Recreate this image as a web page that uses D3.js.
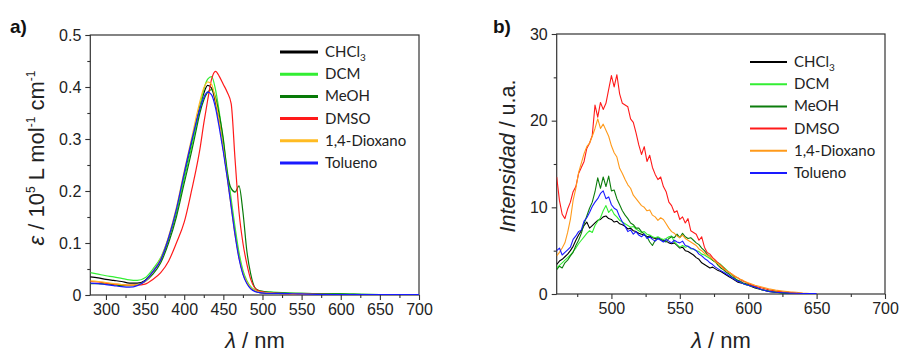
<!DOCTYPE html>
<html><head><meta charset="utf-8">
<script src="https://cdn.jsdelivr.net/npm/d3@7"></script>
<style>
html,body{margin:0;padding:0;background:#fff;}
svg text{font-family:"Liberation Sans",Arial,sans-serif;}
</style></head>
<body><svg id="c" width="900" height="353"></svg>
<script>
// ---------- data ----------
const seriesNames = ["CHCl3","DCM","MeOH","DMSO","1,4-Dioxano","Tolueno"];
const colorsA = ["#000000","#33ee33","#087a08","#ff1a1a","#ffbb22","#1a1aff"];
const colorsB = ["#000000","#33ee33","#0d7d0d","#ff1a1a","#ff9a1a","#1a1aff"];

// Panel a: absorption
const wlA = [280,290,300,310,320,330,340,350,360,370,380,390,400,410,415,420,425,430,435,440,445,450,455,460,465,470,475,480,485,490,495,500,510,520,550,600,650,700];
const absCHCl3 = [0.035,0.033,0.030,0.028,0.026,0.023,0.023,0.028,0.045,0.068,0.108,0.160,0.228,0.295,0.330,0.362,0.388,0.403,0.398,0.370,0.330,0.280,0.230,0.175,0.120,0.075,0.042,0.024,0.013,0.008,0.005,0.004,0.003,0.003,0.002,0.001,0.001,0.001];
const absDCM = [0.043,0.040,0.037,0.035,0.032,0.029,0.028,0.033,0.050,0.072,0.110,0.160,0.225,0.290,0.325,0.360,0.395,0.415,0.420,0.395,0.350,0.295,0.240,0.185,0.130,0.082,0.048,0.028,0.016,0.010,0.008,0.007,0.006,0.005,0.003,0.002,0.001,0.001];
const absMeOH = [0.022,0.022,0.021,0.020,0.018,0.018,0.020,0.026,0.040,0.062,0.100,0.150,0.215,0.280,0.315,0.350,0.375,0.390,0.395,0.380,0.345,0.300,0.235,0.205,0.198,0.210,0.160,0.085,0.040,0.015,0.009,0.007,0.005,0.004,0.003,0.002,0.001,0.001];
const absDMSO = [0.026,0.025,0.023,0.021,0.020,0.019,0.019,0.021,0.030,0.043,0.065,0.100,0.140,0.205,0.240,0.280,0.330,0.375,0.415,0.430,0.420,0.405,0.390,0.368,0.260,0.160,0.100,0.060,0.030,0.014,0.008,0.006,0.004,0.003,0.002,0.001,0.001,0.001];
const absDiox = [0.027,0.026,0.024,0.022,0.020,0.019,0.020,0.026,0.045,0.070,0.112,0.168,0.238,0.305,0.340,0.372,0.398,0.410,0.405,0.375,0.330,0.280,0.225,0.170,0.115,0.072,0.042,0.025,0.014,0.009,0.006,0.005,0.004,0.003,0.002,0.001,0.001,0.001];
const absTol = [0.023,0.022,0.020,0.018,0.016,0.015,0.018,0.027,0.045,0.068,0.110,0.165,0.235,0.300,0.330,0.358,0.380,0.390,0.385,0.360,0.320,0.275,0.225,0.170,0.115,0.070,0.040,0.022,0.012,0.007,0.005,0.004,0.003,0.003,0.002,0.001,0.001,0.001];

// Panel b: emission
const wlB = [460,462,464,466,468,470,472,474,476,478,480,482,484,486,488,490,492,494,496,498,500,502,504,506,508,510,512,514,516,518,520,522,524,526,528,530,532,534,536,538,540,542,544,546,548,550,552,554,556,558,560,562,564,566,568,570,572,574,576,578,580,582,584,586,588,590,592,594,596,598,600,605,610,615,620,625,630,635,640,645,650];
const emCHCl3 = [3.4,3.8,4.0,4.3,4.6,5.0,5.5,6.2,6.8,7.3,7.9,8.3,7.6,7.9,8.2,8.5,8.6,8.9,9.0,8.7,8.6,8.3,8.4,8.1,8.0,7.8,7.5,7.6,7.3,7.2,7.0,6.9,6.8,6.6,6.7,6.5,6.4,6.5,6.3,6.2,6.1,5.9,5.8,5.9,5.6,5.3,5.4,5.0,4.9,4.7,4.5,4.2,4.0,3.6,3.4,3.2,3.0,3.1,2.9,2.7,2.6,2.4,2.2,2.0,1.8,1.6,1.4,1.3,1.2,1.1,1.0,0.7,0.5,0.3,0.2,0.15,0.1,0.05,0.02,0,0];
const emDCM = [3.0,3.3,3.6,3.9,4.2,4.5,4.9,5.3,5.8,6.2,6.6,7.0,7.3,7.1,7.9,8.4,8.8,9.6,10.2,9.4,9.8,9.2,8.9,8.5,8.3,8.1,7.9,7.7,7.8,7.5,7.3,7.1,7.2,6.9,6.8,6.6,6.5,6.6,6.4,6.3,6.4,6.6,6.7,6.0,5.7,5.4,5.6,5.4,5.5,5.2,5.2,5.0,4.9,4.6,4.5,4.3,4.1,3.9,3.7,3.6,3.4,3.1,2.8,2.5,2.2,1.9,1.6,1.4,1.2,1.1,1.0,0.8,0.5,0.4,0.3,0.2,0.1,0.05,0,0,0];
const emMeOH = [2.8,3.2,3.0,3.6,3.9,4.4,4.8,5.6,6.2,7.0,8.1,9.0,9.9,10.6,11.8,13.4,12.2,13.5,12.4,13.6,11.9,12.0,11.0,10.3,9.6,9.1,8.7,8.2,8.0,7.6,7.6,7.2,6.9,6.6,6.0,5.6,6.2,6.4,6.3,6.1,6.0,6.4,6.6,6.5,6.9,6.5,7.0,6.6,6.4,6.5,6.2,5.9,5.7,5.3,5.0,4.6,4.3,3.9,3.7,3.3,3.0,2.8,2.5,2.3,2.0,1.8,1.6,1.5,1.3,1.2,1.1,0.8,0.5,0.3,0.2,0.1,0.05,0.02,0,0,0];
const emDMSO = [13.5,10.8,9.2,8.7,9.8,10.6,11.8,12.4,13.9,14.6,15.3,16.8,17.4,18.3,21.8,20.4,22.1,21.3,22.0,23.6,25.2,23.9,25.3,23.1,22.0,21.8,21.6,20.2,19.8,18.6,17.2,16.1,17.0,15.3,16.0,14.6,13.8,13.2,13.5,12.4,11.8,10.6,10.2,9.4,9.6,8.6,8.9,8.2,8.7,7.3,7.1,6.9,6.2,6.6,5.4,4.8,4.6,4.2,3.9,3.6,3.3,3.0,2.7,2.5,2.3,2.0,1.9,1.7,1.5,1.4,1.2,0.9,0.7,0.5,0.35,0.25,0.2,0.1,0.05,0.02,0];
const emDiox = [4.4,4.8,5.3,5.9,7.1,8.6,10.8,12.2,14.0,15.1,16.2,17.0,17.4,18.2,19.1,20.2,19.1,19.6,18.9,18.2,17.1,16.3,15.8,14.5,13.9,13.2,12.6,12.2,11.4,11.0,10.6,10.2,10.0,9.6,9.7,9.1,8.9,8.5,8.8,8.6,8.1,7.6,7.2,7.0,6.7,6.5,6.8,6.4,6.2,6.0,5.8,5.6,5.2,5.0,4.7,4.5,4.3,4.0,3.7,3.5,3.2,2.9,2.7,2.5,2.3,2.1,1.9,1.7,1.6,1.4,1.3,1.0,0.8,0.6,0.45,0.35,0.25,0.2,0.1,0.05,0.02];
const emTol = [5.0,5.3,4.5,4.8,5.1,5.4,6.3,6.7,7.2,7.4,8.4,8.8,9.4,10.1,10.6,11.0,11.6,11.9,11.0,11.2,10.3,9.9,9.7,8.9,8.3,7.8,7.2,7.4,6.9,7.2,6.8,6.6,6.9,6.4,6.6,6.3,6.1,6.4,6.2,6.0,6.3,6.1,5.9,6.2,6.0,5.9,6.1,5.6,5.5,5.3,5.2,5.0,4.6,4.4,4.1,3.9,3.6,3.4,3.1,2.9,2.7,2.5,2.3,2.1,1.9,1.7,1.5,1.4,1.2,1.1,1.0,0.8,0.5,0.3,0.2,0.15,0.1,0.08,0.06,0.05,0.04];

const xTicksA = [300,350,400,450,500,550,600,650,700];
const yTicksA = [0,0.1,0.2,0.3,0.4,0.5];
const xTicksB = [500,550,600,650,700];
const yTicksB = [0,10,20,30];

const seriesA = [absCHCl3,absDCM,absMeOH,absDMSO,absDiox,absTol];
const seriesB = [emCHCl3,emDCM,emMeOH,emDMSO,emDiox,emTol];

// ---------- drawing ----------
const svg = d3.select("#c");
const axisColor = "#333";

function panel(opt){
  const g = svg.append("g");
  const x = d3.scaleLinear().domain(opt.xDom).range([opt.l, opt.r]);
  const y = d3.scaleLinear().domain(opt.yDom).range([opt.b, opt.t]);
  g.append("rect").attr("x",opt.l).attr("y",opt.t).attr("width",opt.r-opt.l).attr("height",opt.b-opt.t)
    .attr("fill","none").attr("stroke",axisColor).attr("stroke-width",1.2);
  const xa = d3.axisBottom(x).tickValues(opt.xMinor).tickSize(3).tickFormat("");
  const ya = d3.axisLeft(y).tickValues(opt.yMinor).tickSize(3).tickFormat("");
  [g.append("g").attr("transform",`translate(0,${opt.b})`).call(xa),
   g.append("g").attr("transform",`translate(${opt.l},0)`).call(ya)].forEach(s=>{
     s.select(".domain").remove(); s.selectAll("line").attr("stroke",axisColor).attr("stroke-width",1.1);});
  const xA = d3.axisBottom(x).tickValues(opt.xTicks).tickSize(5).tickPadding(4).tickFormat(opt.xFmt);
  const yA = d3.axisLeft(y).tickValues(opt.yTicks).tickSize(5).tickPadding(4).tickFormat(opt.yFmt);
  const gx = g.append("g").attr("transform",`translate(0,${opt.b})`).call(xA);
  const gy = g.append("g").attr("transform",`translate(${opt.l},0)`).call(yA);
  [gx,gy].forEach(s=>{
    s.select(".domain").remove();
    s.selectAll("line").attr("stroke",axisColor).attr("stroke-width",1.1);
    s.selectAll("text").attr("fill","#222").style("font-size","16px").style("font-family","'Liberation Sans',Arial,sans-serif");
  });
  const clipId = "clip"+opt.id;
  svg.append("clipPath").attr("id",clipId).append("rect").attr("x",opt.l).attr("y",opt.t-2).attr("width",opt.r-opt.l).attr("height",opt.b-opt.t+2);
  const lg = g.append("g").attr("clip-path",`url(#${clipId})`);
  opt.series.forEach((vals,i)=>{
    const pts = opt.xs.map((w,j)=>[w,vals[j]]);
    lg.append("path").datum(pts)
      .attr("d", d3.line().x(d=>x(d[0])).y(d=>y(d[1])).curve(opt.curve))
      .attr("fill","none").attr("stroke",opt.colors[i]).attr("stroke-width",opt.lw).attr("stroke-linejoin","round");
  });
  const leg = g.append("g");
  seriesNames.forEach((n,i)=>{
    const yy = opt.legY + i*opt.legDy;
    leg.append("line").attr("x1",opt.legX).attr("x2",opt.legX+opt.legLen).attr("y1",yy).attr("y2",yy)
      .attr("stroke",opt.colors[i]).attr("stroke-width",opt.legLw);
    const t = leg.append("text").attr("x",opt.legX+opt.legLen+7).attr("y",yy+5)
      .style("font-family","Lato,'Open Sans',sans-serif").style("font-size","15px").attr("fill","#222");
    if(n==="CHCl3"){ t.text("CHCl"); t.append("tspan").attr("dy",4).style("font-size","10px").text("3"); }
    else t.text(n);
  });
  return {x,y,g};
}

panel({id:"a", l:90.3, r:419, t:35, b:295, xDom:[280,700], yDom:[0,0.5],
  xTicks:xTicksA, yTicks:yTicksA, xMinor:[325,375,425,475,525,575,625,675], yMinor:[0.05,0.15,0.25,0.35,0.45],
  xFmt:d3.format("d"), yFmt:d=>d===0?"0":d3.format(".1f")(d),
  xs:wlA, series:seriesA, colors:colorsA, lw:1.2, curve:d3.curveMonotoneX,
  legX:280, legY:52, legDy:22.2, legLen:38, legLw:3});

panel({id:"b", l:556.7, r:885, t:34, b:294, xDom:[460,700], yDom:[0,30],
  xTicks:xTicksB, yTicks:yTicksB, xMinor:[475,525,575,625,675], yMinor:[5,15,25],
  xFmt:d3.format("d"), yFmt:d3.format("d"),
  xs:wlB, series:seriesB, colors:colorsB, lw:1.1, curve:d3.curveLinear,
  legX:750, legY:62, legDy:22.2, legLen:37, legLw:2});

svg.append("text").attr("x",10).attr("y",33).text("a)").style("font-size","19px").style("font-weight","bold").attr("fill","#111");
svg.append("text").attr("x",493).attr("y",33).text("b)").style("font-size","19px").style("font-weight","bold").attr("fill","#111");

const yt = svg.append("text").attr("transform","translate(44,158) rotate(-90)").attr("text-anchor","middle")
  .style("font-size","22px").attr("fill","#222");
yt.append("tspan").style("font-style","italic").text("ε");
yt.append("tspan").text(" / 10");
yt.append("tspan").attr("dy",-9).style("font-size","12px").text("5");
yt.append("tspan").attr("dy",9).text(" L mol");
yt.append("tspan").attr("dy",-9).style("font-size","12px").text("-1");
yt.append("tspan").attr("dy",9).text(" cm");
yt.append("tspan").attr("dy",-9).style("font-size","12px").text("-1");

const yb = svg.append("text").attr("transform","translate(515,156) rotate(-90)").attr("text-anchor","middle")
  .style("font-size","21.5px").attr("fill","#222");
yb.append("tspan").style("font-style","italic").text("Intensidad");
yb.append("tspan").text(" / u.a.");

[255,721].forEach(cx=>{
  const t = svg.append("text").attr("x",cx).attr("y",348).attr("text-anchor","middle").style("font-size","22px").attr("fill","#222");
  t.append("tspan").style("font-style","italic").text("λ");
  t.append("tspan").text(" / nm");
});
</script></body></html>
